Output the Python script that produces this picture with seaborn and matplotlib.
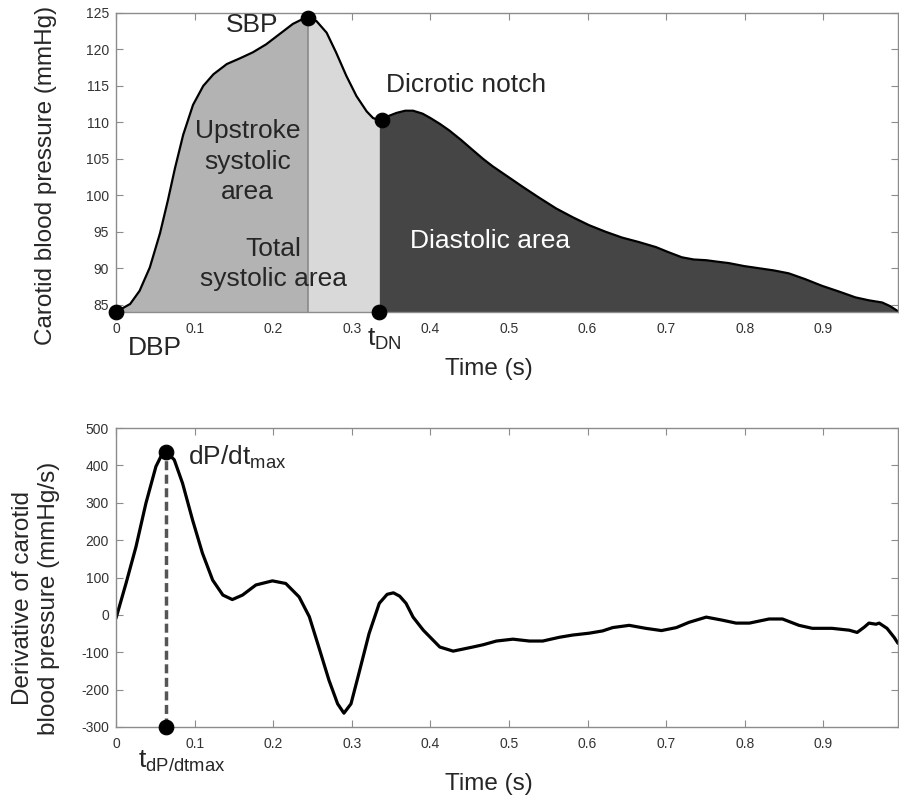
#!/usr/bin/env python3

import matplotlib
matplotlib.use("Agg")
import matplotlib.pyplot as plt
import pandas as pd
import seaborn as sns

# carotid pressure waveform
time_p = [0.000, 0.018, 0.030, 0.043, 0.056, 0.066, 0.075, 0.0855, 0.098, 0.111,
          0.124, 0.141, 0.158, 0.174, 0.191, 0.208, 0.225, 0.238, 0.244, 0.255,
          0.268, 0.280, 0.293, 0.306, 0.319, 0.327, 0.335, 0.345, 0.357, 0.368,
          0.378, 0.390, 0.400, 0.412, 0.424, 0.439, 0.454, 0.467, 0.479, 0.498,
          0.517, 0.538, 0.560, 0.581, 0.602, 0.623, 0.644, 0.665, 0.687, 0.703,
          0.720, 0.735, 0.751, 0.765, 0.780, 0.799, 0.818, 0.837, 0.856, 0.877,
          0.898, 0.920, 0.941, 0.958, 0.975, 0.985, 0.995]
pressure = [84.0, 85.1, 86.9, 90.1, 94.8, 99.3, 103.7, 108.3, 112.4, 115.0,
            116.6, 118.0, 118.8, 119.6, 120.7, 122.1, 123.5, 124.2, 124.3, 123.9,
            122.3, 119.6, 116.4, 113.6, 111.5, 110.6, 110.3, 110.8, 111.3, 111.6,
            111.6, 111.2, 110.6, 109.8, 108.9, 107.6, 106.2, 105.0, 104.0, 102.6,
            101.2, 99.7, 98.2, 97.0, 95.9, 95.0, 94.2, 93.6, 92.9, 92.2,
            91.5, 91.2, 91.1, 90.9, 90.7, 90.3, 90.0, 89.7, 89.3, 88.5,
            87.6, 86.8, 86.0, 85.6, 85.3, 84.8, 84.1]

# first derivative of the waveform
time_d = [0.000, 0.0127, 0.0254, 0.0381, 0.0508, 0.0593, 0.0635, 0.0741, 0.0847, 0.0974,
          0.110, 0.123, 0.136, 0.148, 0.161, 0.178, 0.199, 0.216, 0.233, 0.246,
          0.258, 0.271, 0.282, 0.290, 0.299, 0.309, 0.322, 0.335, 0.345, 0.353,
          0.361, 0.369, 0.378, 0.391, 0.412, 0.429, 0.454, 0.467, 0.484, 0.505,
          0.526, 0.543, 0.564, 0.581, 0.602, 0.619, 0.632, 0.653, 0.674, 0.694,
          0.713, 0.729, 0.751, 0.771, 0.789, 0.806, 0.831, 0.848, 0.869, 0.886,
          0.911, 0.933, 0.943, 0.952, 0.958, 0.967, 0.971, 0.981, 0.990, 0.995]
dpdt = [-9, 84, 182, 299, 397, 433, 437, 415, 352, 254,
        165, 93, 53, 41, 53, 80, 91, 84, 48, -5,
        -86, -175, -238, -263, -238, -157, -50, 31, 55, 59,
        50, 31, -6, -41, -86, -97, -86, -80, -70, -65,
        -70, -70, -60, -54, -49, -43, -34, -28, -36, -42,
        -34, -20, -6, -14, -22, -22, -11, -11, -28, -36,
        -36, -41, -47, -33, -22, -25, -22, -36, -60, -76]

# landmarks
t_sbp, sbp = 0.244, 124.3
t_dn, p_dn = 0.335, 110.3
dbp = 84.0
t_dpdt_max, dpdt_max = 0.0635, 437
dpdt_floor = -300

xticks = [0, 0.1, 0.2, 0.3, 0.4, 0.5, 0.6, 0.7, 0.8, 0.9]
xtick_labels = ["0", "0.1", "0.2", "0.3", "0.4", "0.5", "0.6", "0.7", "0.8", "0.9"]
p_ticks = [85, 90, 95, 100, 105, 110, 115, 120, 125]
d_ticks = [-300, -200, -100, 0, 100, 200, 300, 400, 500]

sns.set_style("ticks")
plt.rcParams["font.family"] = ["Liberation Sans", "DejaVu Sans"]
plt.rcParams["mathtext.fontset"] = "custom"
plt.rcParams["mathtext.rm"] = "Liberation Sans"
plt.rcParams["mathtext.it"] = "Liberation Sans"

SPINE = "#8c8c8c"
TICKTXT = "#333333"
ANN = 19
LAB = 17.5

fig = plt.figure(figsize=(8.99, 7.95), dpi=100)
ax1 = fig.add_axes([116 / 899, 1 - 312 / 795, 782 / 899, 299 / 795])
ax2 = fig.add_axes([116 / 899, 1 - 727 / 795, 782 / 899, 299 / 795])


def style_axes(ax, yticks):
    ax.set_xlim(0, 0.995)
    ax.set_xticks(xticks)
    ax.set_xticklabels(xtick_labels)
    ax.set_yticks(yticks)
    ax.set_yticklabels([str(v) for v in yticks])
    for s in ax.spines.values():
        s.set_visible(True)
        s.set_color(SPINE)
        s.set_linewidth(1.0)
    ax.tick_params(direction="in", length=5, width=0.8, color=SPINE,
                   labelsize=10, labelcolor=TICKTXT, top=True, right=True,
                   pad=5)
    ax.tick_params(axis="x", pad=7)


# ---- top panel: pressure waveform with areas ----
df_p = pd.DataFrame({"Time": time_p, "Pressure": pressure})
t_arr = df_p["Time"].to_numpy()
p_arr = df_p["Pressure"].to_numpy()

up = t_arr <= t_sbp
mid = (t_arr >= t_sbp) & (t_arr <= t_dn)
dia = t_arr >= t_dn
ax1.fill_between(t_arr[up], dbp, p_arr[up], color="#b3b3b3", lw=0)
ax1.fill_between(t_arr[mid], dbp, p_arr[mid], color="#d9d9d9", lw=0)
ax1.fill_between(t_arr[dia], dbp, p_arr[dia], color="#454545", lw=0)
ax1.plot([t_sbp, t_sbp], [dbp, sbp], color="#8a8a8a", lw=1.2)

sns.lineplot(data=df_p, x="Time", y="Pressure", ax=ax1, color="black",
             linewidth=1.6, sort=False, estimator=None)

dots = pd.DataFrame({"x": [0.0, t_sbp, t_dn + 0.003, t_dn],
                     "y": [dbp, sbp, p_dn, dbp]})
sns.scatterplot(data=dots, x="x", y="y", ax=ax1, color="black", s=110,
                edgecolor="black", zorder=5, clip_on=False)

ax1.set_ylim(84, 125)
style_axes(ax1, p_ticks)
ax1.set_xlabel("Time (s)", fontsize=LAB)
ax1.set_ylabel("Carotid blood pressure (mmHg)", fontsize=LAB)
ax1.xaxis.set_label_coords(0.477, -0.155)
ax1.yaxis.set_label_coords(-0.076, 0.458)

ax1.text(0.173, 123.3, "SBP", fontsize=ANN, ha="center", va="center")
ax1.text(0.344, 115.1, "Dicrotic notch", fontsize=ANN, ha="left", va="center")
ax1.text(0.167, 104.6, "Upstroke\nsystolic\narea", fontsize=ANN,
         ha="center", va="center", linespacing=1.35)
ax1.text(0.200, 90.6, "Total\nsystolic area", fontsize=ANN,
         ha="center", va="center", linespacing=1.35)
ax1.text(0.476, 93.7, "Diastolic area", fontsize=ANN, ha="center",
         va="center", color="white")
ax1.text(0.049, 79.0, "DBP", fontsize=ANN, ha="center", va="center",
         clip_on=False)
ax1.text(0.342, 80.2, r"t$_{\mathrm{DN}}$", fontsize=ANN, ha="center",
         va="center", clip_on=False)

# ---- bottom panel: derivative ----
df_d = pd.DataFrame({"Time": time_d, "dPdt": dpdt})
ax2.plot([t_dpdt_max, t_dpdt_max], [dpdt_floor, dpdt_max], color="#555555",
         lw=2.5, linestyle=(0, (2.6, 1.3)), zorder=3)
sns.lineplot(data=df_d, x="Time", y="dPdt", ax=ax2, color="black",
             linewidth=2.3, sort=False, estimator=None)
dots2 = pd.DataFrame({"x": [t_dpdt_max, t_dpdt_max], "y": [dpdt_max, dpdt_floor]})
sns.scatterplot(data=dots2, x="x", y="y", ax=ax2, color="black", s=110,
                edgecolor="black", zorder=5, clip_on=False)

ax2.set_ylim(-300, 500)
style_axes(ax2, d_ticks)
ax2.set_xlabel("Time (s)", fontsize=LAB)
ax2.set_ylabel("Derivative of carotid\nblood pressure (mmHg/s)", fontsize=LAB,
               linespacing=1.2)
ax2.xaxis.set_label_coords(0.477, -0.155)
ax2.yaxis.set_label_coords(-0.072, 0.431)

ax2.text(0.0915, 422, r"dP/dt$_{\mathrm{max}}$", fontsize=ANN, ha="left",
         va="center")
ax2.text(0.084, -392, r"t$_{\mathrm{dP/dtmax}}$", fontsize=ANN, ha="center",
         va="center", clip_on=False)

fig.savefig("out.png", dpi=100)
plt.close(fig)
